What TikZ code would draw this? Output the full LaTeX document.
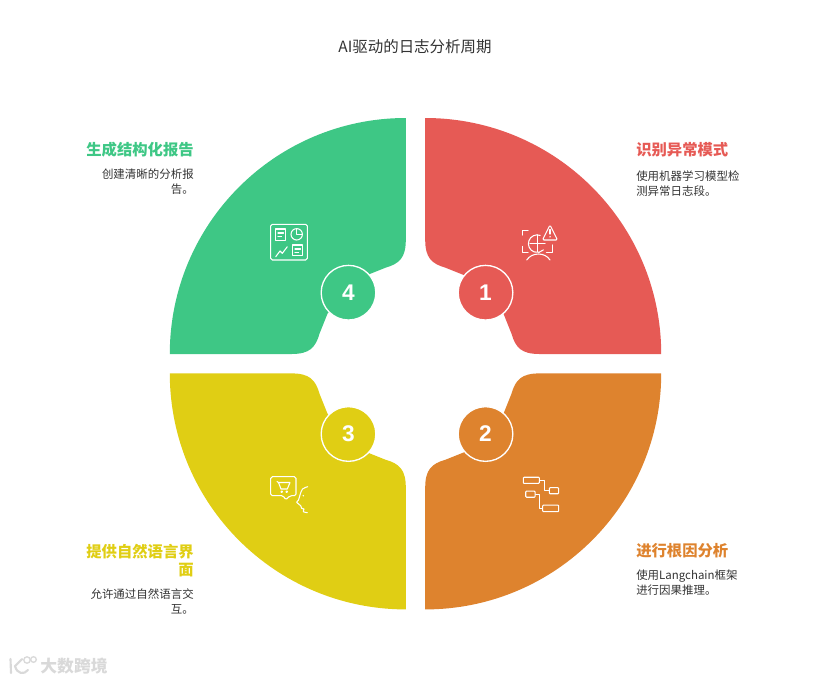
\documentclass[tikz,border=0pt]{standalone}
\usepackage{fontspec}
\setmainfont{Noto Sans CJK SC}
\newfontfamily\numfont{Liberation Sans}
\usepackage{tikz}
\definecolor{redc}{HTML}{E65A55}
\definecolor{orangec}{HTML}{DE832E}
\definecolor{yellowc}{HTML}{E0CE14}
\definecolor{greenc}{HTML}{3EC785}
\definecolor{bodyc}{HTML}{333333}
\tikzset{
  numdot/.style={circle,draw=white,line width=1pt,minimum size=41pt,inner sep=0pt,
    text=white,font=\numfont\fontsize{17}{17}\selectfont\bfseries},
  headtext/.style={font=\fontsize{11.5}{13.5}\selectfont\bfseries,inner sep=0pt},
  bodytext/.style={font=\fontsize{8.6}{11.25}\selectfont,text=bodyc,inner sep=0pt},
  iconline/.style={draw=white,line width=.8pt,line cap=round,line join=round},
  iconbox/.style={iconline,rectangle,rounded corners=.6pt,inner sep=0pt},
  markgray/.style={draw=gray!30,line width=1.6pt,line cap=round}
}
\begin{document}
\begin{tikzpicture}[x=.75pt, y=-.75pt]
    \useasboundingbox (0,0) rectangle (830,682);

    % Title
    \node[font=\fontsize{11.6}{13}\selectfont,text=bodyc] (title) at (415,47) {AI驱动的日志分析周期};

    % Four quarters
    \foreach \sx/\sy/\col in {1/-1/redc, 1/1/orangec, -1/1/yellowc, -1/-1/greenc} {
      \begin{scope}[shift={(415.5,363.7)},xscale=\sx,yscale=\sy]
        \fill[\col] (9.7,245.7) arc[start angle=90,end angle=0,radius=236] -- (124,9.7)
          .. controls (106,9.7) and (100,16) .. (96,30) -- (88,50) -- (69.5,71) -- (50,88) -- (30,96)
          .. controls (16,100) and (9.7,106) .. (9.7,124) -- cycle;
      \end{scope}
    }

    % Numbers
    \node[numdot,fill=redc] (n1) at (485.5,292.7) {1};
    \node[numdot,fill=orangec] (n2) at (485.5,434) {2};
    \node[numdot,fill=yellowc] (n3) at (348.5,434) {3};
    \node[numdot,fill=greenc] (n4) at (348.5,292.7) {4};

    % Right side texts
    \node[headtext,text=redc,anchor=west] (h1) at (636,149.7) {识别异常模式};
    \node[bodytext,align=left,anchor=north west] (b1) at (636,170) {使用机器学习模型检\\测异常日志段。};
    \node[headtext,text=orangec,anchor=west] (h2) at (636,550.7) {进行根因分析};
    \node[bodytext,align=left,anchor=north west] (b2) at (636,570) {使用Langchain框架\\进行因果推理。};

    % Left side texts
    \node[headtext,text=yellowc,align=right,anchor=north east] (h3) at (194,543.5) {提供自然语言界\\面};
    \node[bodytext,align=right,anchor=north east] (b3) at (194,588.5) {允许通过自然语言交\\互。};
    \node[headtext,text=greenc,anchor=east] (h4) at (194,149.7) {生成结构化报告};
    \node[bodytext,align=right,anchor=north east] (b4) at (194,169) {创建清晰的分析报\\告。};

    % Icon 1
    \draw[iconline] (522.7,235) -- (522.7,230.7) -- (528,230.7);
    \draw[iconline] (522.7,246.5) -- (522.7,252.5) -- (528,252.5);
    \draw[iconline] (546.5,252.5) -- (552.7,252.5) -- (552.7,245);
    \draw[iconline] (540.2,235.4) arc[start angle=-70,end angle=-315,radius=8.8];
    \draw[iconline] (537.3,235) -- (537.3,251.5);
    \draw[iconline] (530,243.3) -- (545,243.3);
    \draw[iconline,rounded corners=1pt] (550,225) -- (557.5,240) -- (542.5,240) -- cycle;
    \draw[iconline] (550,229.5) -- (550,234);
    \fill[white] (550,236.8) circle (.8);
    \draw[iconline] (526.7,260) .. controls (532,252) and (545,252) .. (550,260);

    % Icon 2
    \node[iconbox,minimum width=12pt,minimum height=4.6pt] (r1) at (531.3,480.3) {};
    \node[iconbox,minimum width=7pt,minimum height=4.6pt] (r2) at (554,490.7) {};
    \node[iconbox,minimum width=7pt,minimum height=4.6pt] (r3) at (530.4,494.2) {};
    \node[iconbox,minimum width=12pt,minimum height=4.9pt] (r4) at (550.7,508.4) {};
    \draw[iconline] (r1.east) -- ++(5,0) |- (r2.west);
    \draw[iconline] (r3.east) -- ++(4,0) |- (r4.west);

    % Icon 3
    \draw[iconline,rounded corners=1.2pt] (283.3,495.7) -- (270.7,495.7) -- (270.7,476.7) -- (296,476.7) -- (296,495.7) -- (290,495.7) -- (285.7,500) -- cycle;
    \draw[iconline] (277,481.5) -- (278.5,482.5) -- (290,482.5) -- (287.3,489) -- (281,489) -- (278.5,482.5);
    \draw[iconline] (281.7,491.7) circle (.8);
    \draw[iconline] (286.7,491.7) circle (.8);
    \draw[iconline] plot[smooth,tension=.5] coordinates {(307.7,486.7) (302.5,489) (300,495) (298.5,500) (296.7,502.3) (300.7,505.7) (301.7,508.3) (304,509) (303.3,511.7) (307.3,512.7)};
    \fill[white] (303.3,495.7) circle (.8);

    % Icon 4
    \draw[iconline,rounded corners=1.2pt] (270.7,224.3) rectangle (307.3,260);
    \draw[iconline] (275.7,229) rectangle (285.7,240.7);
    \draw[iconline] (278,233) -- (283.5,233);
    \draw[iconline] (278,236.5) -- (281.5,236.5);
    \draw[iconline] (296.7,234.3) circle (5.7);
    \draw[iconline] (296.7,228.6) -- (296.7,234.3) -- (302.4,234.3);
    \draw[iconline] (275.7,256.7) -- (280,251) -- (282.3,253.3) -- (287.3,246.7);
    \draw[iconline] (292.7,245) rectangle (302.7,255.7);
    \draw[iconline] (295,249) -- (300.5,249);
    \draw[iconline] (295,252.5) -- (298.5,252.5);

    % Mark in the corner
    \draw[markgray] (10.5,659) -- (11,673);
    \draw[markgray] (22,659) -- (15,666) .. controls (17,674) and (24,675) .. (28,670);
    \draw[draw=gray!30,line width=1pt] (27,660) circle (3.2);
    \draw[draw=gray!30,line width=1pt] (33.5,659.5) circle (2.8);
    \node[font=\fontsize{12.6}{12}\selectfont\bfseries,text=gray!30,inner sep=0pt] (mark) at (74,666) {大数跨境};

\end{tikzpicture}
\end{document}
